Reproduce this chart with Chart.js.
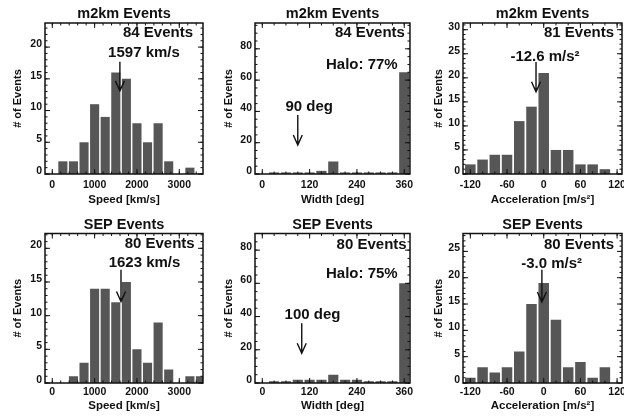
<!DOCTYPE html>
<html>
<head>
<meta charset="utf-8">
<script src="https://cdn.jsdelivr.net/npm/chart.js@4.4.1/dist/chart.umd.min.js"></script>
<style>
  html, body { margin: 0; padding: 0; background: #fff; overflow: hidden; }
  body { width: 624px; height: 418px; position: relative; }
  canvas { position: absolute; }
</style>
</head>
<body>
<canvas id="c1" width="208" height="208" style="left:0;top:0"></canvas>
<canvas id="c2" width="208" height="208" style="left:210px;top:0"></canvas>
<canvas id="c3" width="222" height="208" style="left:418px;top:0"></canvas>
<canvas id="c4" width="208" height="210" style="left:0;top:208px"></canvas>
<canvas id="c5" width="208" height="210" style="left:210px;top:208px"></canvas>
<canvas id="c6" width="222" height="210" style="left:418px;top:208px"></canvas>
<script>
// histogram bins (bin centres) and counts
const speedBins = [0, 250, 500, 750, 1000, 1250, 1500, 1750, 2000, 2250, 2500, 2750, 3000, 3250, 3500]
const m2kmSpeedCounts = [0, 2, 2, 5, 11, 9, 16, 15, 8, 5, 8, 2, 0, 1, 0]
const sepSpeedCounts = [0, 0, 1, 3, 14, 14, 12, 15, 5, 3, 9, 2, 0, 1, 1]

const widthBins = [0, 30, 60, 90, 120, 150, 180, 210, 240, 270, 300, 330, 360]
const m2kmWidthCounts = [0, 1, 1, 1, 1, 2, 8, 1, 1, 1, 1, 1, 65]
const sepWidthCounts = [0, 1, 1, 2, 2, 2, 5, 2, 2, 1, 1, 1, 60]

const accelBins = [-120, -100, -80, -60, -40, -20, 0, 20, 40, 60, 80, 100, 120]
const m2kmAccelCounts = [2, 3, 4, 4, 11, 14, 21, 5, 5, 2, 2, 1, 0]
const sepAccelCounts = [1, 3, 2, 3, 6, 15, 19, 12, 3, 4, 1, 3, 0]

const speedTicks = [0, 1000, 2000, 3000]
const widthTicks = [0, 120, 240, 360]
const accelTicks = [-120, -60, 0, 60, 120]

const FONT = '"Liberation Sans", Arial, Helvetica, sans-serif'
const INK = '#111'
const BAR = '#565656'

Chart.defaults.font.family = FONT
Chart.defaults.font.weight = 'bold'
Chart.defaults.color = INK

// per-row and per-column layout
const rows = [
  { titleTop: 5.3, titleBottom: 0.3, xHeight: 34, tickPad: 4.7, xTitleBottom: 1.1 },
  { titleTop: 7.8, titleBottom: 0.3, xHeight: 35, tickPad: 2.4, xTitleBottom: 5.6 }
]
const cols = [
  { padRight: 5, yTitlePad: 11.7 },
  { padRight: 8, yTitlePad: 11.9 },
  { padRight: 18, yTitlePad: 14.4 }
]

const panels = [
  {
    id: "c1", row: 0, col: 0, title: "m2km Events", xTitle: "Speed [km/s]",
    bins: speedBins, counts: m2kmSpeedCounts, xTicks: speedTicks, xMin: -172, xMax: 3560, xMinor: 200,
    yMax: 23.8, yTicks: [0, 5, 10, 15, 20], yMinor: 1,
    notes: [
      { text: "84 Events", x: 3324, y: 22.2, align: "right" },
      { text: "1597 km/s", x: 2166, y: 19.1, align: "center" }
    ],
    arrow: { x: 1597, from: 17.7, to: 13.1 }
  },
  {
    id: "c2", row: 0, col: 1, title: "m2km Events", xTitle: "Width [deg]",
    bins: widthBins, counts: m2kmWidthCounts, xTicks: widthTicks, xMin: -18.5, xMax: 374.5, xMinor: 30,
    yMax: 96.5, yTicks: [0, 20, 40, 60, 80], yMinor: 5,
    notes: [
      { text: "84 Events", x: 361.8, y: 90.1, align: "right" },
      { text: "Halo: 77%", x: 343.3, y: 69.6, align: "right" },
      { text: "90 deg", x: 118.9, y: 42.8, align: "center" }
    ],
    arrow: { x: 90, from: 37.7, to: 18.5 }
  },
  {
    id: "c3", row: 0, col: 2, title: "m2km Events", xTitle: "Acceleration [m/s²]",
    bins: accelBins, counts: m2kmAccelCounts, xTicks: accelTicks, xMin: -132, xMax: 128, xMinor: 20,
    yMax: 31.4, yTicks: [0, 5, 10, 15, 20, 25, 30], yMinor: 1,
    notes: [
      { text: "81 Events", x: 115, y: 29.3, align: "right" },
      { text: "-12.6 m/s²", x: 2.1, y: 24.3, align: "center" }
    ],
    arrow: { x: -12.6, from: 23.3, to: 17.1 }
  },
  {
    id: "c4", row: 1, col: 0, title: "SEP Events", xTitle: "Speed [km/s]",
    bins: speedBins, counts: sepSpeedCounts, xTicks: speedTicks, xMin: -172, xMax: 3560, xMinor: 200,
    yMax: 22.2, yTicks: [0, 5, 10, 15, 20], yMinor: 1,
    notes: [
      { text: "80 Events", x: 3364, y: 20.6, align: "right" },
      { text: "1623 km/s", x: 2178, y: 17.8, align: "center" }
    ],
    arrow: { x: 1623, from: 16.8, to: 12.1 }
  },
  {
    id: "c5", row: 1, col: 1, title: "SEP Events", xTitle: "Width [deg]",
    bins: widthBins, counts: sepWidthCounts, xTicks: widthTicks, xMin: -18.5, xMax: 374.5, xMinor: 30,
    yMax: 90, yTicks: [0, 20, 40, 60, 80], yMinor: 5,
    notes: [
      { text: "80 Events", x: 366, y: 83.1, align: "right" },
      { text: "Halo: 75%", x: 343.3, y: 65.5, align: "right" },
      { text: "100 deg", x: 127.3, y: 40.9, align: "center" }
    ],
    arrow: { x: 100, from: 35.9, to: 17.9 }
  },
  {
    id: "c6", row: 1, col: 2, title: "SEP Events", xTitle: "Acceleration [m/s²]",
    bins: accelBins, counts: sepAccelCounts, xTicks: accelTicks, xMin: -132, xMax: 128, xMinor: 20,
    yMax: 28.4, yTicks: [0, 5, 10, 15, 20, 25], yMinor: 1,
    notes: [
      { text: "80 Events", x: 115, y: 26.2, align: "right" },
      { text: "-3.0 m/s²", x: 13, y: 22.6, align: "center" }
    ],
    arrow: { x: -3.0, from: 21.5, to: 15.4 }
  }
]

// box, inward tick marks, arrow and the in-plot labels
const framePlugin = {
  id: "frame",
  afterDatasetsDraw(chart, args, opts) {
    const p = opts.panel
    const { ctx, chartArea: a } = chart
    const x = chart.scales.x
    const y = chart.scales.y
    ctx.save()
    ctx.strokeStyle = INK

    ctx.lineWidth = 1
    const xTick = (v, len) => {
      const px = x.getPixelForValue(v)
      if (px < a.left || px > a.right) return
      ctx.beginPath()
      ctx.moveTo(px, a.bottom); ctx.lineTo(px, a.bottom - len)
      ctx.moveTo(px, a.top); ctx.lineTo(px, a.top + len)
      ctx.stroke()
    }
    const yTick = (v, len) => {
      const py = y.getPixelForValue(v)
      if (py < a.top || py > a.bottom) return
      ctx.beginPath()
      ctx.moveTo(a.left, py); ctx.lineTo(a.left + len, py)
      ctx.moveTo(a.right, py); ctx.lineTo(a.right - len, py)
      ctx.stroke()
    }
    for (let v = Math.ceil(p.xMin / p.xMinor) * p.xMinor; v <= p.xMax; v += p.xMinor) xTick(v, 2.5)
    p.xTicks.forEach(v => xTick(v, 5))
    for (let v = 0; v <= p.yMax; v += p.yMinor) yTick(v, 2.5)
    p.yTicks.forEach(v => yTick(v, 5))

    ctx.lineWidth = 1.5
    ctx.strokeRect(a.left, a.top, a.width, a.height)

    // arrow pointing at the mean value
    const ax = x.getPixelForValue(p.arrow.x)
    const y0 = y.getPixelForValue(p.arrow.from)
    const y1 = y.getPixelForValue(p.arrow.to)
    ctx.lineWidth = 1.4
    ctx.beginPath()
    ctx.moveTo(ax, y0); ctx.lineTo(ax, y1)
    ctx.moveTo(ax - 4.5, y1 - 10); ctx.lineTo(ax, y1); ctx.lineTo(ax + 4.5, y1 - 10)
    ctx.stroke()

    ctx.fillStyle = INK
    ctx.font = "bold 15px " + FONT
    ctx.textBaseline = "middle"
    p.notes.forEach(n => {
      ctx.textAlign = n.align
      ctx.fillText(n.text, x.getPixelForValue(n.x), y.getPixelForValue(n.y))
    })
    ctx.restore()
  }
}

panels.forEach(p => {
  const row = rows[p.row]
  const col = cols[p.col]
  new Chart(document.getElementById(p.id), {
    type: "bar",
    data: {
      datasets: [{
        data: p.bins.map((b, i) => ({ x: b, y: p.counts[i] })),
        backgroundColor: BAR,
        borderWidth: 0,
        barPercentage: 0.86,
        categoryPercentage: 1
      }]
    },
    options: {
      responsive: false,
      animation: false,
      devicePixelRatio: 1,
      layout: { padding: { left: 0, right: col.padRight, top: 0, bottom: 0 } },
      plugins: {
        legend: { display: false },
        tooltip: { enabled: false },
        title: {
          display: true,
          text: p.title,
          fullSize: false,
          color: INK,
          font: { size: 14.5, weight: "bold" },
          padding: { top: row.titleTop, bottom: row.titleBottom }
        },
        frame: { panel: p }
      },
      scales: {
        x: {
          type: "linear",
          min: p.xMin,
          max: p.xMax,
          offset: false,
          grid: { display: false, drawTicks: false },
          border: { display: false },
          afterBuildTicks: s => { s.ticks = p.xTicks.map(v => ({ value: v })) },
          afterFit: s => { s.height = row.xHeight },
          ticks: {
            autoSkip: false,
            maxRotation: 0,
            padding: row.tickPad,
            color: INK,
            font: { size: 10.5, weight: "bold" },
            callback: v => String(v)
          },
          title: {
            display: true,
            text: p.xTitle,
            color: INK,
            font: { size: 11.5, weight: "bold" },
            padding: { top: 0, bottom: row.xTitleBottom }
          }
        },
        y: {
          min: 0,
          max: p.yMax,
          grid: { display: false, drawTicks: false },
          border: { display: false },
          afterBuildTicks: s => { s.ticks = p.yTicks.map(v => ({ value: v })) },
          afterFit: s => { s.width = 45 },
          ticks: {
            padding: 3,
            labelOffset: -3,
            color: INK,
            font: { size: 10.5, weight: "bold" },
            callback: v => String(v)
          },
          title: {
            display: true,
            text: "# of Events",
            color: INK,
            font: { size: 11, weight: "bold" },
            padding: { top: col.yTitlePad, bottom: 0 }
          }
        }
      }
    },
    plugins: [framePlugin]
  })
})
</script>
</body>
</html>
